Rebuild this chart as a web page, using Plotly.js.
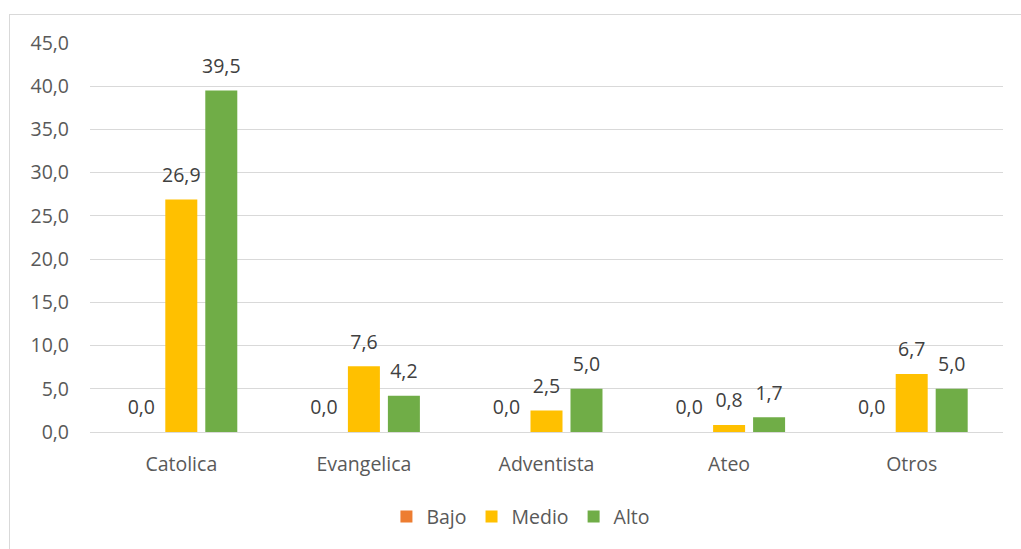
<!DOCTYPE html>
<html>
<head>
<meta charset="utf-8">
<script src="https://cdn.plot.ly/plotly-3.0.1.min.js"></script>
<style>
  html, body { margin:0; padding:0; background:#fff; }
  #wrap { position:relative; width:1021px; height:549px; overflow:hidden; }
  #frame { position:absolute; left:9px; top:14px; width:1030px; height:560px; border:1px solid #d9d9d9; box-sizing:border-box; }
  #chart { position:absolute; left:0; top:0; width:1021px; height:549px; }
</style>
</head>
<body>
<div id="wrap">
  <div id="frame"></div>
  <div id="chart"></div>
</div>
<script>
const categories = ["Catolica", "Evangelica", "Adventista", "Ateo", "Otros"];
const bajo  = [0.0, 0.0, 0.0, 0.0, 0.0];
const medio = [26.9, 7.6, 2.5, 0.8, 6.7];
const alto  = [39.5, 4.2, 5.0, 1.7, 5.0];
const seriesNames = ["Bajo", "Medio", "Alto"];
const colors = ["#ED7D31", "#FFC000", "#70AD47"];

const FONT = "Open Sans, sans-serif";
const data = [bajo, medio, alto].map((vals, i) => ({
  type: "bar",
  name: seriesNames[i],
  x: categories,
  y: vals,
  marker: {color: colors[i]},
  texttemplate: "<span style='font-size:19.5px'>%{y:.1f}</span><br><span> </span>",
  textposition: "outside",
  constraintext: "none",
  textfont: {family: FONT, size: 9, color: "#404040"},
  cliponaxis: false,
  hoverinfo: "none"
}));

const layout = {
  width: 1021, height: 549,
  paper_bgcolor: "rgba(0,0,0,0)",
  plot_bgcolor: "rgba(0,0,0,0)",
  separators: ",.",
  margin: {l: 90, r: 18, t: 43, b: 117},
  barmode: "group",
  bargap: 0.343,
  bargroupgap: 0.2,
  font: {family: FONT, size: 19.5, color: "#595959"},
  xaxis: {
    showgrid: false, showline: false, zeroline: false, ticks: "",
    tickfont: {family: FONT, size: 19.5, color: "#595959"},
    ticklabelstandoff: 18
  },
  yaxis: {
    range: [0, 45], dtick: 5, tickformat: ".1f",
    showgrid: true, gridcolor: "#d9d9d9", gridwidth: 1,
    zeroline: true, zerolinecolor: "#d9d9d9", zerolinewidth: 1,
    showline: false, ticks: "",
    tickfont: {family: FONT, size: 19.5, color: "#595959"},
    ticklabelstandoff: 20
  },
  showlegend: true,
  legend: {
    orientation: "h", x: 0.472, xanchor: "center", y: -0.218, yanchor: "middle",
    font: {family: FONT, size: 19.5, color: "#595959"},
    itemwidth: 30, traceorder: "normal"
  }
};

Plotly.newPlot("chart", data, layout, {staticPlot: true, displayModeBar: false});
</script>
</body>
</html>
